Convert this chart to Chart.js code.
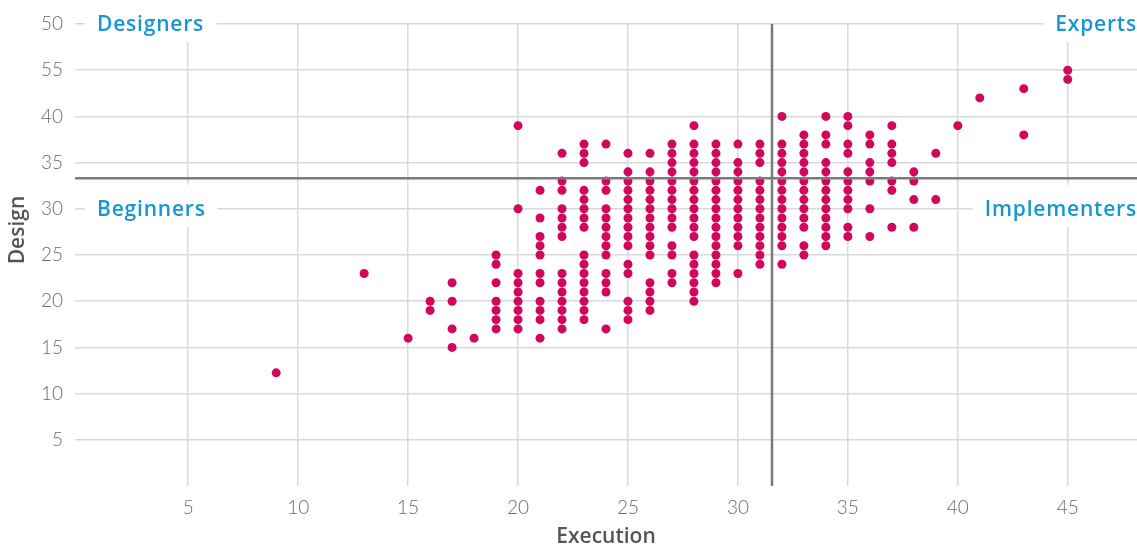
<!DOCTYPE html>
<html>
<head>
<meta charset="utf-8">
<script src="https://cdn.jsdelivr.net/npm/chart.js@4/dist/chart.umd.min.js"></script>
<style>
  html, body { margin: 0; padding: 0; background: #fff; }
  #wrap { width: 1137px; height: 546px; position: relative; }
</style>
</head>
<body>
<div id="wrap"><canvas id="chart"></canvas></div>
<script>
// Execution score columns and the design scores found in each column
const executionScores = [9, 13, 15, 16, 17, 18, 19, 20, 21, 22, 23, 24, 25, 26, 27, 28, 29, 30, 31, 32, 33, 34, 35, 36, 37, 38, 39, 40, 41, 43, 45];
const designScores = [
    [12.25],
    [23],
    [16],
    [20, 19],
    [22, 20, 17, 15],
    [16],
    [25, 24, 22, 20, 19, 18, 17],
    [39, 30, 23, 22, 21, 20, 19, 18, 17],
    [32, 29, 27, 26, 25, 23, 22, 20, 19, 18, 16],
    [36, 33, 32, 30, 29, 28, 27, 23, 22, 21, 20, 19, 18, 17],
    [37, 36, 35, 32, 31, 30, 29, 28, 25, 24, 23, 22, 21, 20, 19, 18],
    [37, 33, 32, 30, 29, 28, 27, 26, 25, 23, 22, 21, 17],
    [36, 34, 33, 32, 31, 30, 29, 28, 27, 26, 24, 23, 20, 19, 18],
    [36, 34, 33, 32, 31, 30, 29, 28, 27, 26, 25, 22, 21, 20, 19],
    [37, 36, 35, 34, 33, 32, 31, 30, 29, 28, 26, 25, 23, 22],
    [39, 37, 36, 35, 34, 33, 32, 31, 30, 29, 28, 27, 25, 24, 23, 22, 21, 20],
    [37, 36, 35, 34, 33, 32, 31, 30, 29, 28, 27, 26, 25, 24, 23, 22],
    [37, 35, 34, 33, 32, 31, 30, 29, 28, 27, 26, 23],
    [37, 36, 35, 33, 32, 31, 30, 29, 28, 27, 26, 25, 24],
    [40, 37, 36, 35, 34, 33, 32, 31, 30, 29, 28, 27, 26, 24],
    [38, 37, 36, 35, 34, 33, 32, 31, 30, 29, 28, 26, 25],
    [40, 38, 37, 35, 34, 33, 32, 31, 30, 29, 28, 27, 26],
    [40, 39, 37, 36, 34, 33, 32, 31, 30, 28, 27],
    [38, 37, 35, 34, 33, 30, 27],
    [39, 37, 36, 35, 33, 32, 28],
    [34, 33, 31, 28],
    [36, 31],
    [39],
    [42],
    [43, 38],
    [45, 44]
];

// Average lines splitting the quadrants
const meanExecution = 31.55;
const meanDesign = 33.3;

const xTicks = [5, 10, 15, 20, 25, 30, 35, 40, 45];
const yTicks = [5, 10, 15, 20, 25, 30, 35, 40, 45, 50];
const yTickLabels = ['5', '10', '15', '20', '25', '30', '35', '40', '55', '50'];

const xMin = -0.15, xMax = 48.15;
const yMin = 0, yMax = 50;

// Quadrant names: [text, side, design value]
const quadrants = [
    ['Designers', 'left', 50],
    ['Experts', 'right', 50],
    ['Beginners', 'left', 30],
    ['Implementers', 'right', 30]
];

const colors = {
    point: '#d0075b',
    grid: '#dadada',
    mean: '#7b7b7b',
    tick: '#6b6b6b',
    title: '#545454',
    quadrant: '#1796d5'
};

const points = [];
executionScores.forEach((x, i) => {
    designScores[i].forEach(y => points.push({ x: x, y: y }));
});

const titleFont = { family: '"Open Sans"', weight: '600', size: 21, lineHeight: 0.85 };
const tickFont = { family: 'Lato', weight: '300', size: 19 };

// White boxed quadrant names drawn over the grid
const quadrantPlugin = {
    id: 'quadrantLabels',
    beforeDatasetsDraw: (chart) => {
        const { ctx, chartArea, scales } = chart;
        ctx.save();
        ctx.font = '600 21px "Open Sans", sans-serif';
        ctx.letterSpacing = '0.8px';
        ctx.textBaseline = 'middle';
        quadrants.forEach(([text, side, value]) => {
            const y = scales.y.getPixelForValue(value);
            const w = ctx.measureText(text).width;
            let left;
            ctx.fillStyle = '#fff';
            if (side === 'left') {
                left = chartArea.left + 22;
                ctx.fillRect(left - 12, y - 24, w + 24, 42);
            } else {
                left = chartArea.right - w;
                ctx.fillRect(left - 12, y - 24, w + 12, 42);
            }
            ctx.fillStyle = colors.quadrant;
            ctx.textAlign = 'left';
            ctx.fillText(text, left, y + 1);
        });
        ctx.restore();
    }
};

// Y axis title sits a bit above the middle of the plot
const yTitlePlugin = {
    id: 'yTitle',
    afterDraw: (chart) => {
        const { ctx, chartArea } = chart;
        ctx.save();
        ctx.translate(18, (chartArea.top + chartArea.bottom) / 2 - 25);
        ctx.rotate(-Math.PI / 2);
        ctx.font = '600 21px "Open Sans", sans-serif';
        ctx.fillStyle = colors.title;
        ctx.textAlign = 'center';
        ctx.textBaseline = 'middle';
        ctx.fillText('Design', 0, 0);
        ctx.restore();
    }
};

new Chart(document.getElementById('chart'), {
    type: 'scatter',
    data: {
        datasets: [
            {
                label: 'Students',
                data: points,
                backgroundColor: colors.point,
                borderWidth: 0,
                pointRadius: 4.5,
                pointHoverRadius: 4.5,
                order: 2
            },
            {
                type: 'line',
                label: 'Mean execution',
                data: [{ x: meanExecution, y: yMin }, { x: meanExecution, y: yMax }],
                borderColor: colors.mean,
                borderWidth: 2.5,
                pointRadius: 0,
                order: 1
            },
            {
                type: 'line',
                label: 'Mean design',
                data: [{ x: xMin, y: meanDesign }, { x: xMax, y: meanDesign }],
                borderColor: colors.mean,
                borderWidth: 2.5,
                pointRadius: 0,
                order: 1
            }
        ]
    },
    options: {
        responsive: true,
        maintainAspectRatio: false,
        animation: false,
        layout: { autoPadding: false, padding: { top: 24, right: 0, left: 0, bottom: 0 } },
        scales: {
            x: {
                type: 'linear',
                min: xMin,
                max: xMax,
                afterBuildTicks: (scale) => { scale.ticks = xTicks.map(v => ({ value: v })); },
                afterFit: (scale) => { scale.height = 60; },
                border: { display: false },
                grid: { color: colors.grid, lineWidth: 1.5, drawTicks: false },
                ticks: { padding: 10, color: colors.tick, font: tickFont },
                title: {
                    display: true,
                    text: 'Execution',
                    color: colors.title,
                    padding: 0,
                    font: titleFont
                }
            },
            y: {
                min: yMin,
                max: yMax,
                afterBuildTicks: (scale) => { scale.ticks = yTicks.map(v => ({ value: v })); },
                afterFit: (scale) => { scale.width = 75; },
                border: { display: false },
                grid: { color: colors.grid, lineWidth: 1.5, drawTicks: false },
                ticks: {
                    padding: 12,
                    color: colors.tick,
                    font: tickFont,
                    callback: (v) => yTickLabels[yTicks.indexOf(v)]
                }
            }
        },
        plugins: {
            legend: { display: false },
            tooltip: { enabled: false }
        }
    },
    plugins: [quadrantPlugin, yTitlePlugin]
});
</script>
</body>
</html>
